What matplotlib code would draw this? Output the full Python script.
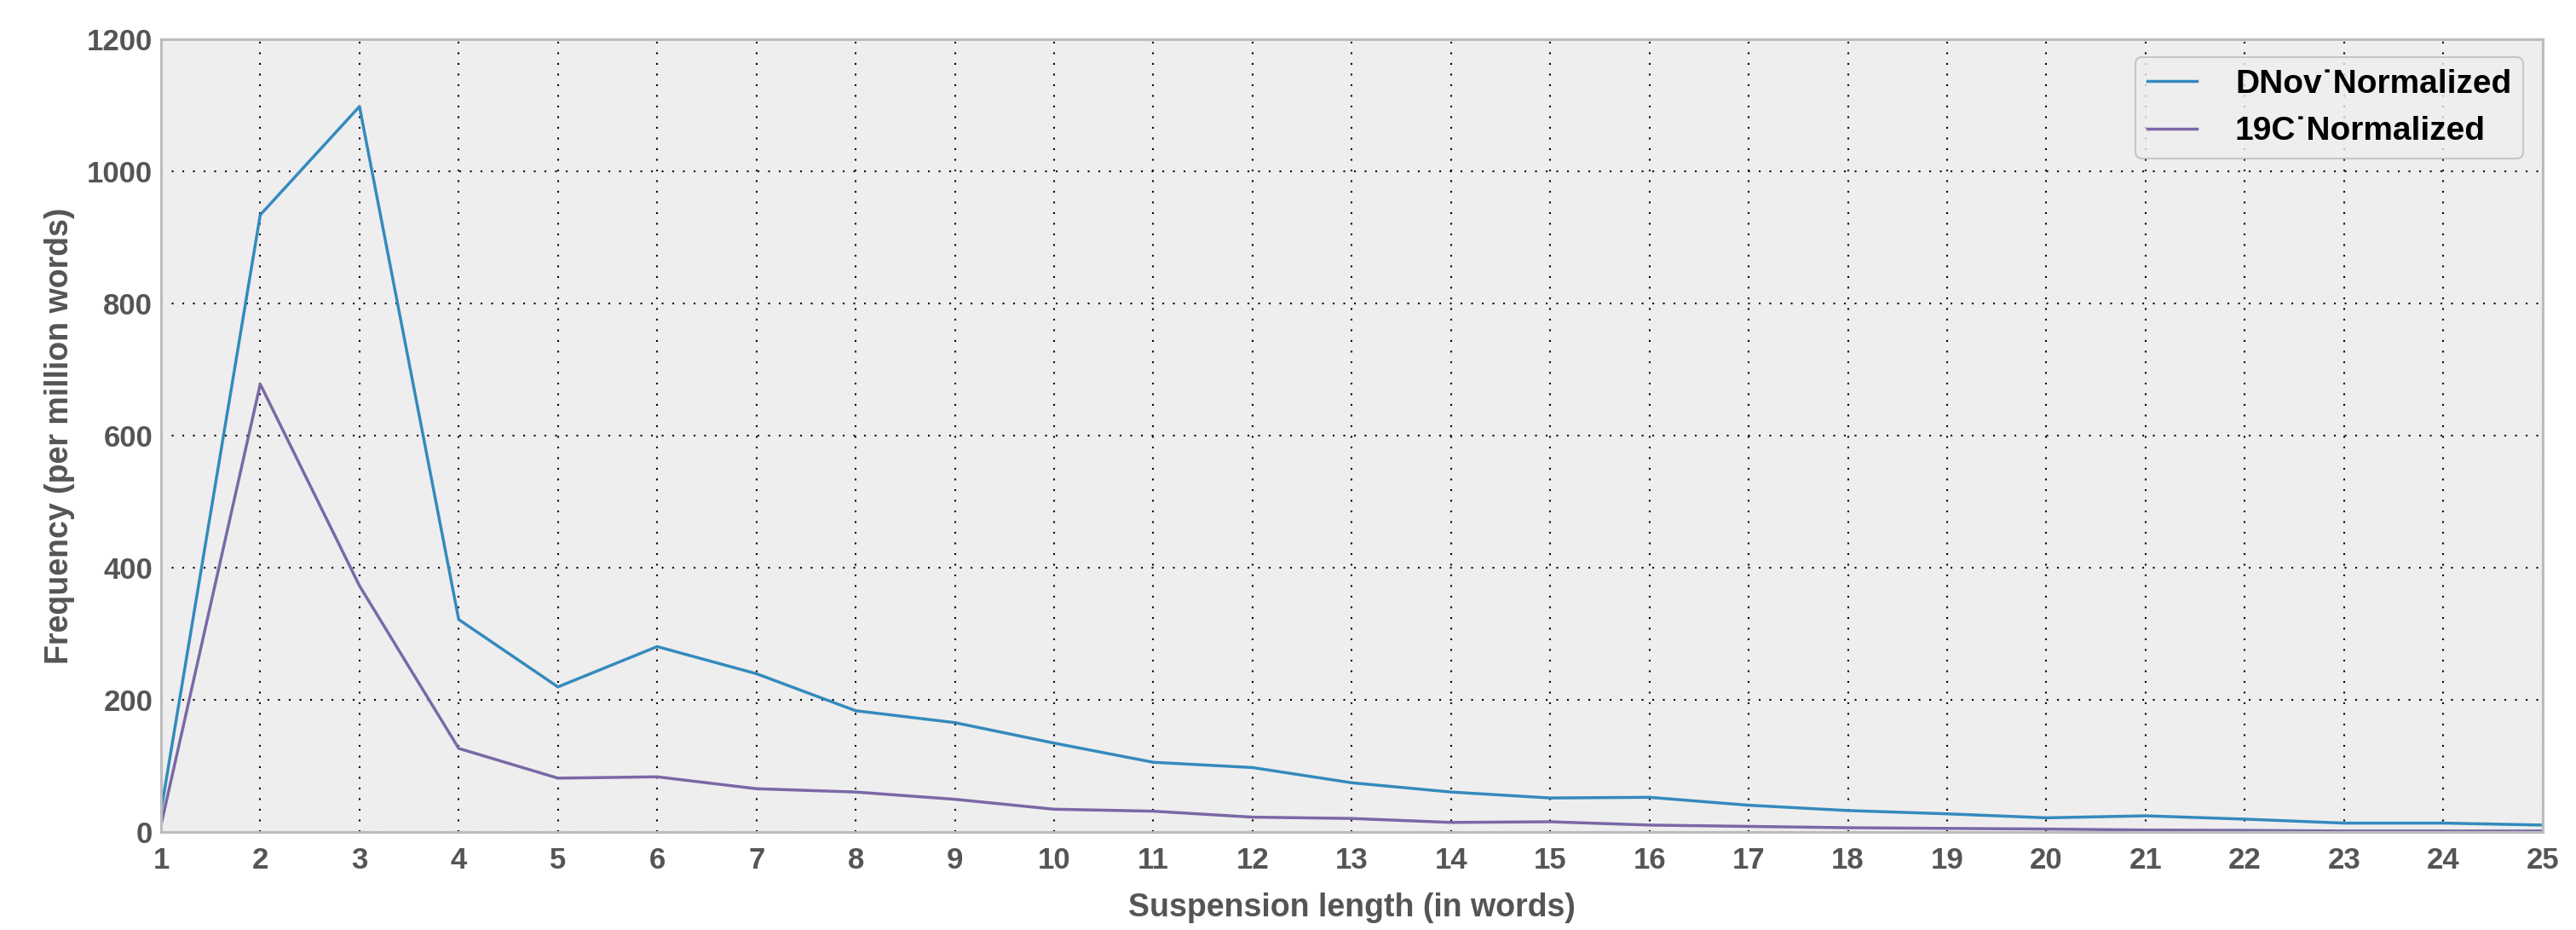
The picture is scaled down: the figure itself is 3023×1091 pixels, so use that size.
import matplotlib
matplotlib.use("Agg")
import matplotlib.pyplot as plt

# suspension length in words
lengths = list(range(1, 26))

# frequency per million words
dnov = [32, 934, 1098, 322, 220, 281, 240, 184, 166, 135, 106, 98, 75, 61, 52,
        53, 41, 33, 28, 22, 25, 20, 14, 14, 11]
c19 = [11, 678, 373, 127, 82, 84, 66, 61, 50, 35, 32, 23, 21, 15, 16,
       11, 9, 7, 6, 5, 3.5, 3, 2, 2, 2]

series_names = ["DNov\u02d9Normalized", "19C\u02d9Normalized"]
yticks = [0, 200, 400, 600, 800, 1000, 1200]

plt.rcParams["font.family"] = ["Liberation Sans", "DejaVu Sans"]
plt.rcParams["font.weight"] = "bold"

fig = plt.figure(figsize=(30.23, 10.91), dpi=100)
ax = fig.add_axes([0.0625, 0.105, 0.9245, 0.853])
ax.set_facecolor("#eeeeee")

ax.plot(lengths, dnov, color="#348ABD", lw=2.5, label=series_names[0])
ax.plot(lengths, c19, color="#7A68A6", lw=2.5, label=series_names[1])

ax.set_xlim(1, 25)
ax.set_ylim(0, 1200)
ax.set_xticks(lengths)
ax.set_yticks(yticks)
ax.grid(True, color="black", linestyle=(0, (1, 5)), linewidth=1.5)
ax.set_axisbelow(True)

for s in ax.spines.values():
    s.set_color("#bcbcbc")
    s.set_linewidth(2.2)

ax.tick_params(length=0, labelsize=25, labelcolor="#555555")
ax.tick_params(axis="x", pad=12)
ax.tick_params(axis="y", pad=7)
ax.set_xlabel("Suspension length (in words)", fontsize=27, color="#555555",
              fontweight="bold")
ax.set_ylabel("Frequency (per million words)", fontsize=27, color="#555555",
              fontweight="bold")
ax.xaxis.set_label_coords(0.5, -0.076)
ax.yaxis.set_label_coords(-0.036, 0.5)

leg = ax.legend(loc="upper right", fontsize=28, frameon=True, fancybox=True,
                handlelength=1.5, handletextpad=1.15, borderpad=0.35,
                labelspacing=0.5, borderaxespad=0,
                bbox_to_anchor=(0.9918, 0.977))
leg.get_frame().set_facecolor("#eeeeee")
leg.get_frame().set_edgecolor("#bcbcbc")
leg.get_frame().set_linewidth(1.5)

fig.savefig("out.png", dpi=100)
